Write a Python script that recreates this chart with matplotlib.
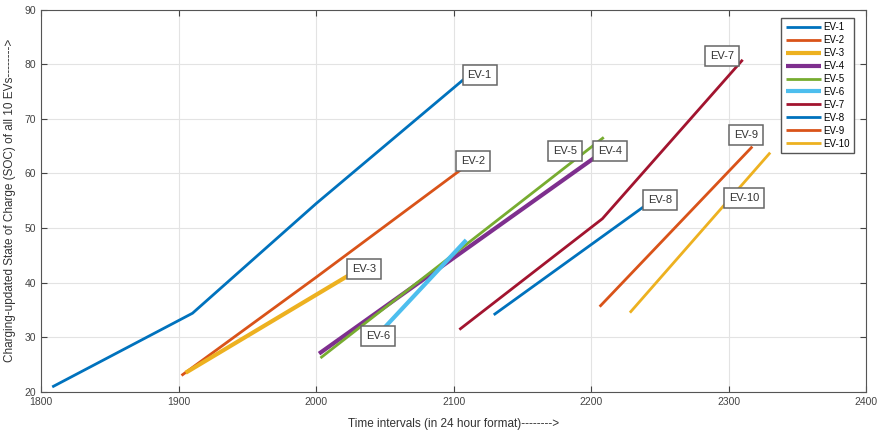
import matplotlib
matplotlib.use("Agg")
import matplotlib.pyplot as plt

plt.rcParams['font.family'] = ['Liberation Sans Narrow', 'Liberation Sans', 'DejaVu Sans']

# Charging trajectories (time in 24h format, SOC in %)
ev_names = ["EV-1", "EV-2", "EV-3", "EV-4", "EV-5", "EV-6", "EV-7", "EV-8", "EV-9", "EV-10"]
ev_time = [
    [1808, 1910, 2000, 2109],
    [1902, 2000, 2109],
    [1905, 2028],
    [2002, 2208],
    [2003, 2209],
    [2046, 2109],
    [2104, 2208, 2310],
    [2129, 2243],
    [2206, 2317],
    [2228, 2330],
]
ev_soc = [
    [20.9, 34.4, 54.5, 77.6],
    [23.0, 41.0, 61.4],
    [23.5, 42.0],
    [27.0, 63.9],
    [26.2, 66.6],
    [30.8, 47.8],
    [31.4, 51.7, 80.8],
    [34.1, 54.8],
    [35.6, 64.9],
    [34.5, 63.8],
]
# label anchor points (left-centre of each tag)
label_x = [2110, 2105, 2026, 2205, 2172, 2036, 2286, 2241, 2304, 2300]
label_y = [78.1, 62.3, 42.5, 64.1, 64.1, 30.3, 81.5, 55.2, 67.1, 55.5]

colors = ["#0072BD", "#D95319", "#EDB120", "#7E2F8E", "#77AC30",
          "#4DBEEE", "#A2142F", "#0072BD", "#D95319", "#EDB120"]
widths = [2.0, 2.0, 3.0, 3.0, 2.0, 3.0, 2.0, 2.0, 2.0, 2.0]

fig = plt.figure(figsize=(8.77, 4.33), dpi=100)
ax = fig.add_axes([0.047, 0.095, 0.941, 0.883])

for name, t, s, c, w in zip(ev_names, ev_time, ev_soc, colors, widths):
    ax.plot(t, s, color=c, lw=w, label=name, solid_capstyle='butt')

for name, x, y in zip(ev_names, label_x, label_y):
    ax.text(x, y, name, fontsize=8, color="#333333", ha="left", va="center",
            family=['Liberation Sans', 'DejaVu Sans'],
            bbox=dict(boxstyle="square,pad=0.45", fc="white", ec="#666666", lw=1.1))

ax.set_xlim(1800, 2400)
ax.set_ylim(20, 90)
ax.set_xticks(range(1800, 2401, 100))
ax.set_yticks(range(20, 91, 10))
ax.grid(True, color="#e3e3e3", lw=0.8)
ax.set_axisbelow(True)
ax.tick_params(direction="in", top=True, right=True, labelsize=7.5,
               colors="#444444", length=4)
for sp in ax.spines.values():
    sp.set_color("#555555")
    sp.set_linewidth(0.8)

ax.set_xlabel("Time intervals (in 24 hour format)-------->", fontsize=8.5,
              color="#333333", labelpad=8)
ax.set_ylabel("Charging-updated State of Charge (SOC) of all 10 EVs-------->",
              fontsize=8.5, color="#333333", labelpad=6)

leg = ax.legend(loc="upper right", fontsize=7, handlelength=3.6,
                handletextpad=0.2, labelspacing=0.3, borderpad=0.45,
                borderaxespad=0.0, fancybox=False, framealpha=1,
                bbox_to_anchor=(0.9845, 0.978),
                prop={'family': ['Liberation Sans', 'DejaVu Sans'], 'size': 7})
leg.get_frame().set_edgecolor("#555555")
leg.get_frame().set_linewidth(1.0)

fig.savefig("out.png", dpi=100)
